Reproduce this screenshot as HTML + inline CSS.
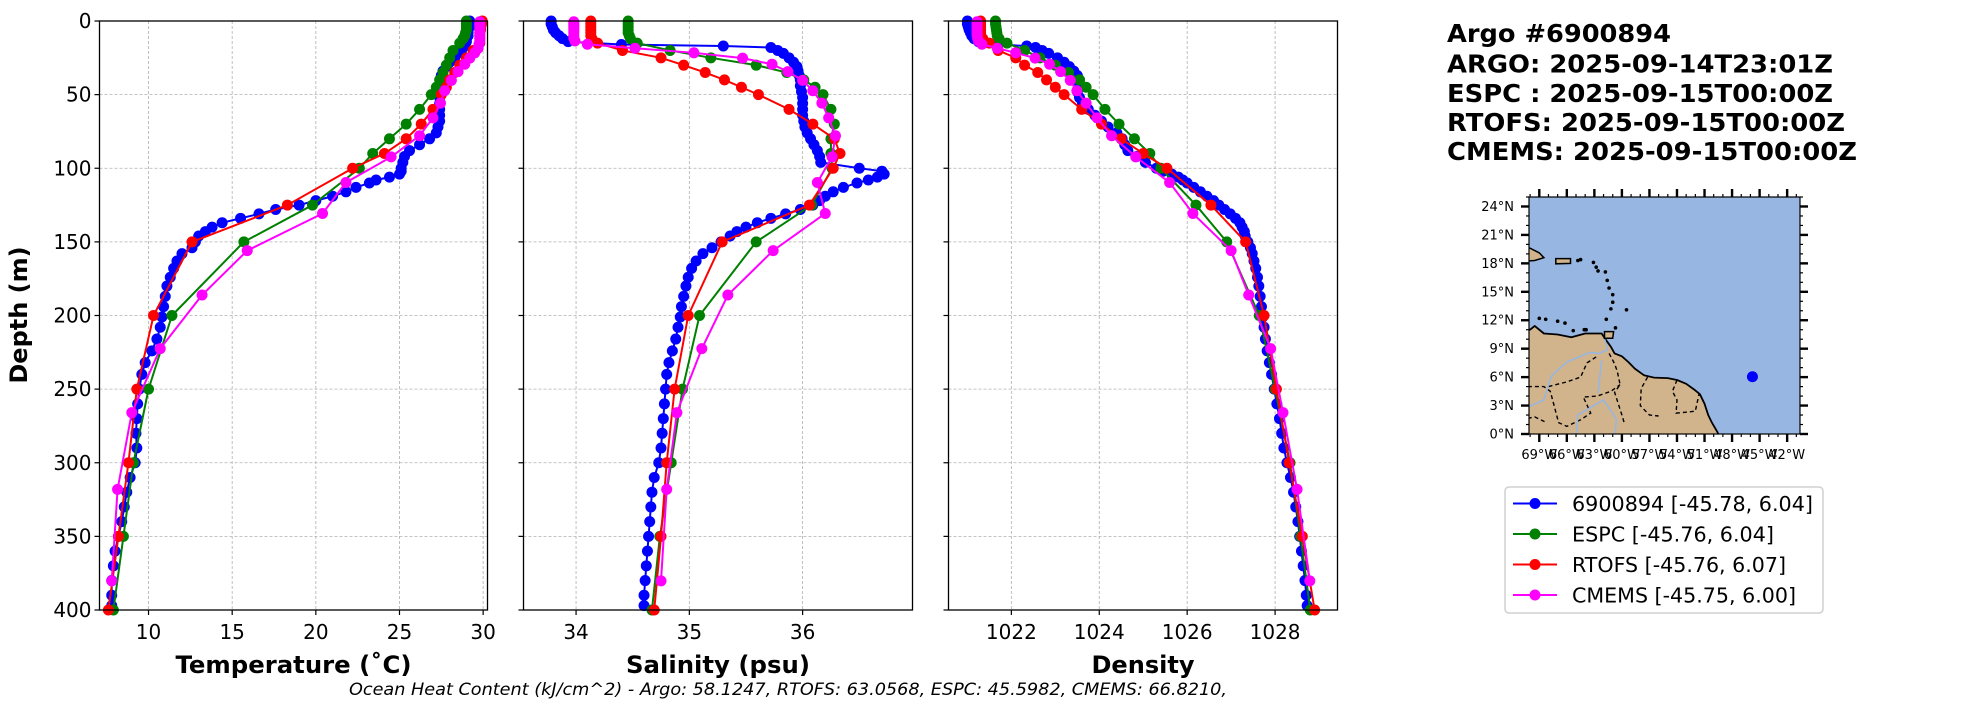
<!DOCTYPE html>
<html><head><meta charset="utf-8"><style>
html,body{margin:0;padding:0;background:#fff;}
svg{display:block;font-family:"DejaVu Sans","Liberation Sans",sans-serif;}
</style></head><body>
<svg id="fig" width="1967" height="712" viewBox="0 0 1967 712" xmlns="http://www.w3.org/2000/svg">
<g id="plots"></g>
<g id="side">
 <g font-weight="bold" font-size="25">
  <text x="1447" y="42" textLength="224" lengthAdjust="spacingAndGlyphs">Argo #6900894</text>
  <text x="1447" y="72.5" textLength="386" lengthAdjust="spacingAndGlyphs">ARGO: 2025-09-14T23:01Z</text>
  <text x="1447" y="102" textLength="386" lengthAdjust="spacingAndGlyphs">ESPC : 2025-09-15T00:00Z</text>
  <text x="1447" y="131" textLength="398" lengthAdjust="spacingAndGlyphs">RTOFS: 2025-09-15T00:00Z</text>
  <text x="1447" y="160" textLength="410" lengthAdjust="spacingAndGlyphs">CMEMS: 2025-09-15T00:00Z</text>
 </g>
 <g id="map"></g>
 <g>
  <rect x="1505" y="487" width="318" height="126" rx="4" fill="#fff" stroke="#d0d0d0" stroke-width="1.5"/>
  <g><line x1="1513" y1="503.5" x2="1557" y2="503.5" stroke="#0000ff" stroke-width="2"/><circle cx="1535" cy="503.5" r="5.5" fill="#0000ff"/><text x="1572" y="511" font-size="20" textLength="241" lengthAdjust="spacingAndGlyphs">6900894 [-45.78, 6.04]</text></g>
  <g><line x1="1513" y1="534" x2="1557" y2="534" stroke="#008000" stroke-width="2"/><circle cx="1535" cy="534" r="5.5" fill="#008000"/><text x="1572" y="541.5" font-size="20" textLength="202" lengthAdjust="spacingAndGlyphs">ESPC [-45.76, 6.04]</text></g>
  <g><line x1="1513" y1="564.5" x2="1557" y2="564.5" stroke="#ff0000" stroke-width="2"/><circle cx="1535" cy="564.5" r="5.5" fill="#ff0000"/><text x="1572" y="572" font-size="20" textLength="214" lengthAdjust="spacingAndGlyphs">RTOFS [-45.76, 6.07]</text></g>
  <g><line x1="1513" y1="595" x2="1557" y2="595" stroke="#ff00ff" stroke-width="2"/><circle cx="1535" cy="595" r="5.5" fill="#ff00ff"/><text x="1572" y="602.5" font-size="20" textLength="224" lengthAdjust="spacingAndGlyphs">CMEMS [-45.75, 6.00]</text></g>
 </g>
</g>
<text x="349" y="695" font-size="17" font-style="italic" textLength="878" lengthAdjust="spacingAndGlyphs">Ocean Heat Content (kJ/cm^2) - Argo: 58.1247,  RTOFS: 63.0568,  ESPC: 45.5982,  CMEMS: 66.8210,</text>
</svg>
<script>
// ---------- data ----------
const argoDepth = [0,2,4,6,8,10,12,14,16,17, 18,20,22,25,28,31,34,37,40,44, 48,52,56,60,64,68,72,76,80,84, 88,92,96,100,102,104,106,108,110,113, 116,119,122,125,128,131,134,137,140,143, 146,150,154,158,163,168,174,180,187,194, 201,208,216,224,232,240,250,260,270,280, 290,300,310,320,330,340,350,360,370,380, 390,397];
const argoTemp = [29.2,29.2,29.2,29.1,29.1,29.1,29.0,29.0,28.9,28.9, 28.8,28.7,28.5,28.3,28.0,27.8,27.6,27.5,27.5,27.4, 27.4,27.4,27.4,27.4,27.4,27.4,27.3,27.2,26.8,26.2, 25.6,25.3,25.2,25.1,25.1,25.0,24.4,23.6,23.2,22.4, 21.8,21.0,20.0,19.0,17.6,16.6,15.5,14.4,13.8,13.4, 13.0,12.8,12.6,12.0,11.7,11.5,11.3,11.1,11.0,10.9, 10.8,10.7,10.5,10.2,9.8,9.6,9.45,9.35,9.3,9.25, 9.3,9.2,8.9,8.7,8.55,8.4,8.2,8.0,7.9,7.8, 7.8,7.8];
const argoSal = [33.78,33.78,33.79,33.8,33.82,33.85,33.88,33.93,34.4,35.3, 35.72,35.78,35.83,35.88,35.92,35.95,35.96,35.97,35.98,35.98, 35.99,36.0,36.0,36.0,36.0,36.01,36.02,36.04,36.07,36.1, 36.13,36.15,36.16,36.5,36.7,36.72,36.66,36.58,36.48,36.36, 36.27,36.2,36.15,36.09,35.98,35.85,35.72,35.6,35.5,35.42, 35.36,35.28,35.2,35.12,35.06,35.02,34.99,34.97,34.95,34.93, 34.92,34.9,34.88,34.85,34.82,34.8,34.79,34.78,34.77,34.76, 34.75,34.73,34.69,34.67,34.66,34.65,34.64,34.63,34.62,34.61, 34.6,34.6];
const argoDens = [1021.0,1021.0,1021.02,1021.04,1021.07,1021.1,1021.15,1021.25,1021.7,1022.35, 1022.55,1022.7,1022.85,1023.05,1023.2,1023.32,1023.42,1023.5,1023.55,1023.52, 1023.5,1023.55,1023.62,1023.75,1023.9,1024.05,1024.2,1024.4,1024.52,1024.58, 1024.65,1024.85,1025.05,1025.3,1025.45,1025.65,1025.8,1025.9,1026.0,1026.15, 1026.3,1026.45,1026.6,1026.72,1026.85,1026.98,1027.1,1027.2,1027.25,1027.3, 1027.32,1027.38,1027.44,1027.48,1027.52,1027.56,1027.6,1027.63,1027.66,1027.69, 1027.72,1027.75,1027.78,1027.82,1027.87,1027.92,1027.98,1028.04,1028.1,1028.15, 1028.2,1028.27,1028.35,1028.42,1028.47,1028.52,1028.56,1028.6,1028.64,1028.68, 1028.71,1028.73];

const modelDepth = [0,2,4,6,8,10,12,15,20,25,30,35,40,45,50,60,70,80,90,100,125,150,200,250,300,350,400];
const espcTemp = [29.0,29.0,29.0,29.0,28.95,28.9,28.8,28.6,28.2,28.0,27.8,27.6,27.4,27.2,26.9,26.2,25.4,24.4,23.4,22.6,19.8,15.7,11.4,10.0,9.1,8.5,7.9];
const espcSal = [34.46,34.46,34.46,34.46,34.46,34.47,34.48,34.54,34.83,35.19,35.59,35.86,36.01,36.11,36.18,36.25,36.28,36.25,36.25,36.26,36.08,35.59,35.09,34.94,34.84,34.74,34.67];
const espcDens = [1021.64,1021.64,1021.65,1021.66,1021.67,1021.68,1021.72,1021.9,1022.3,1022.65,1023.0,1023.3,1023.55,1023.7,1023.86,1024.13,1024.45,1024.8,1025.15,1025.4,1026.2,1026.9,1027.64,1028.0,1028.34,1028.58,1028.8];
const rtofsTemp = [29.95,29.9,29.85,29.85,29.8,29.8,29.8,29.8,29.4,29.0,28.6,28.3,28.0,27.8,27.5,27.0,26.3,25.4,24.1,22.2,18.3,12.6,10.3,9.3,8.8,8.2,7.6];
const rtofsSal = [34.13,34.13,34.13,34.13,34.13,34.13,34.14,34.19,34.41,34.75,34.95,35.14,35.31,35.46,35.61,35.88,36.09,36.28,36.33,36.27,36.06,35.29,34.99,34.87,34.80,34.75,34.69];
const rtofsDens = [1021.3,1021.3,1021.3,1021.3,1021.3,1021.3,1021.35,1021.5,1021.7,1022.1,1022.3,1022.6,1022.8,1023.0,1023.2,1023.6,1024.05,1024.5,1025.0,1025.54,1026.54,1027.33,1027.75,1028.03,1028.32,1028.62,1028.9];

const cmemsDepth = [0.5,1.5,2.6,3.8,5.1,6.4,7.9,9.6,11.4,13.5,15.8,18.5,21.6,25.2,29.4,34.4,40.3,47.4,55.8,65.8,77.9,92.3,109.7,130.7,155.9,186.1,222.5,266.0,318.1,380.2];
const cmemsTemp = [29.8,29.8,29.8,29.8,29.8,29.8,29.8,29.8,29.8,29.8,29.75,29.7,29.5,29.2,28.9,28.5,28.1,27.7,27.45,27.0,26.2,24.5,21.8,20.4,15.9,13.2,10.7,9.0,8.15,7.8];
const cmemsSal = [33.98,33.98,33.98,33.98,33.98,33.98,33.98,33.98,33.98,33.99,34.1,34.52,35.04,35.47,35.73,35.87,36.0,36.09,36.17,36.23,36.29,36.26,36.13,36.2,35.74,35.34,35.11,34.89,34.80,34.75];
const cmemsDens = [1021.22,1021.22,1021.22,1021.22,1021.22,1021.22,1021.22,1021.22,1021.23,1021.25,1021.33,1021.68,1022.1,1022.54,1022.87,1023.12,1023.34,1023.49,1023.7,1023.95,1024.28,1024.83,1025.6,1026.13,1027.0,1027.4,1027.9,1028.18,1028.5,1028.79];

const depthTicks = [0,50,100,150,200,250,300,350,400];
const tempTicks = [10,15,20,25,30];
const salTicks = [34,35,36];
const densTicks = [1022,1024,1026,1028];

const floatLon = -45.78, floatLat = 6.04;
const latTicks = [0,3,6,9,12,15,18,21,24];
const lonTicks = [-69,-66,-63,-60,-57,-54,-51,-48,-45,-42];

// ---------- helpers ----------
const NS = 'http://www.w3.org/2000/svg';
function mk(tag, attrs, parent){ const e=document.createElementNS(NS,tag); for(const k in attrs) e.setAttribute(k,attrs[k]); if(parent) parent.appendChild(e); return e; }
const TOP=21, BOT=610;
const yScale = d => TOP + (d/400)*(BOT-TOP);

const panels = [
 {name:'temperature', x0:99.5, x1:487.5, min:7.07, max:30.26, ticks:tempTicks, label:'Temperature (˚C)', labelW:236, yLabels:true,
  series:[[argoDepth,argoTemp,'#0000ff','argo'],[modelDepth,espcTemp,'#008000','espc'],[modelDepth,rtofsTemp,'#ff0000','rtofs'],[cmemsDepth,cmemsTemp,'#ff00ff','cmems']]},
 {name:'salinity', x0:523.5, x1:912.5, min:33.536, max:36.97, ticks:salTicks, label:'Salinity (psu)', labelW:184, yLabels:false,
  series:[[argoDepth,argoSal,'#0000ff','argo'],[modelDepth,espcSal,'#008000','espc'],[modelDepth,rtofsSal,'#ff0000','rtofs'],[cmemsDepth,cmemsSal,'#ff00ff','cmems']]},
 {name:'density', x0:948.5, x1:1337.5, min:1020.57, max:1029.42, ticks:densTicks, label:'Density', labelW:103, yLabels:false,
  series:[[argoDepth,argoDens,'#0000ff','argo'],[modelDepth,espcDens,'#008000','espc'],[modelDepth,rtofsDens,'#ff0000','rtofs'],[cmemsDepth,cmemsDens,'#ff00ff','cmems']]}
];

const plots = document.getElementById('plots');
panels.forEach(p=>{
  const xs = v => p.x0 + (v-p.min)/(p.max-p.min)*(p.x1-p.x0);
  const g = mk('g',{},plots);
  
  
  p.ticks.forEach(t=>{
    const l = mk('line',{x1:xs(t),x2:xs(t),y1:TOP,y2:BOT,stroke:'#b0b0b0','stroke-width':0.8,'stroke-dasharray':'3,2'},g);
    
    
  });
  depthTicks.forEach(d=>{
    const l = mk('line',{x1:p.x0,x2:p.x1,y1:yScale(d),y2:yScale(d),stroke:'#b0b0b0','stroke-width':0.8,'stroke-dasharray':'3,2'},g);
    
    
  });
  const clipId = 'clip-'+p.name;
  const cp = mk('clipPath',{id:clipId},g); mk('rect',{x:p.x0,y:TOP-6,width:p.x1-p.x0,height:BOT-TOP+12},cp);
  p.series.forEach(s=>{
    const [dep,val,col,nm] = s;
    const sg = mk('g',{'clip-path':'url(#'+clipId+')'},g);
    
    
    const n = Math.min(dep.length,val.length);
    let pts=[];
    for(let i=0;i<n;i++) pts.push(xs(val[i]).toFixed(2)+','+yScale(dep[i]).toFixed(2));
    const pl = mk('polyline',{points:pts.join(' '),fill:'none',stroke:col,'stroke-width':2,'stroke-linejoin':'round'},sg);
    
    
    for(let i=0;i<n;i++){
      const c = mk('circle',{cx:xs(val[i]),cy:yScale(dep[i]),r:5.5,fill:col},sg);
      
      
    }
  });
  const fr = mk('rect',{x:p.x0,y:TOP,width:p.x1-p.x0,height:BOT-TOP,fill:'none',stroke:'#000','stroke-width':1.3},g);
  
  
  p.ticks.forEach(t=>{
    mk('line',{x1:xs(t),x2:xs(t),y1:BOT,y2:BOT+5,stroke:'#000','stroke-width':1.2},g);
    const tx = mk('text',{x:xs(t),y:639,'font-size':20,'text-anchor':'middle'},g);
    tx.textContent = String(t);
    
    
  });
  depthTicks.forEach(d=>{
    mk('line',{x1:p.x0-5,x2:p.x0,y1:yScale(d),y2:yScale(d),stroke:'#000','stroke-width':1.2},g);
    if(p.yLabels){
      const ty = mk('text',{x:p.x0-8,y:yScale(d)+7,'font-size':20,'text-anchor':'end'},g);
      ty.textContent = String(d);
      
      
    }
  });
  const xl = mk('text',{x:(p.x0+p.x1)/2,y:673,'font-size':24,'font-weight':'bold','text-anchor':'middle',textLength:p.labelW,lengthAdjust:'spacingAndGlyphs'},g);
  xl.textContent = p.label;
  
  
});
const yl = mk('text',{x:0,y:0,'font-size':24,'font-weight':'bold','text-anchor':'middle',transform:'translate(27,315) rotate(-90)'},plots);
yl.textContent='Depth (m)';



// ---------- map ----------
const map = document.getElementById('map');
const MX0=1529, MX1=1800, MY0=197, MY1=434;
const LON0=-70.12, LON1=-40.6, LAT0=0, LAT1=25.0;
const mx = lon => MX0 + (lon-LON0)/(LON1-LON0)*(MX1-MX0);
const my = lat => MY1 - (lat-LAT0)/(LAT1-LAT0)*(MY1-MY0);
const mcp = mk('clipPath',{id:'mapclip'},map); mk('rect',{x:MX0,y:MY0,width:MX1-MX0,height:MY1-MY0},mcp);
const ocean = mk('rect',{x:MX0,y:MY0,width:MX1-MX0,height:MY1-MY0,fill:'#97b6e1'},map);


const mg = mk('g',{'clip-path':'url(#mapclip)'},map);
const poly = (arr)=>arr.map(a=>mx(a[0]).toFixed(1)+','+my(a[1]).toFixed(1)).join(' ');
const land = mk('polygon',{points:poly([[-71,-1],[-71,11.2],[-70,11.0],[-69.5,11.4],[-68.5,10.6],[-67,10.5],[-65.5,10.2],[-64,10.6],[-63,10.6],[-62.2,10.6],[-61.8,10.0],[-61.2,9.2],[-60.8,8.5],[-60,8.2],[-59.3,7.6],[-58.6,6.9],[-57.6,6.2],[-56.5,5.95],[-55,5.9],[-54,5.7],[-53,5.3],[-52,4.6],[-51.5,4.2],[-51,3.2],[-50.6,2.0],[-50.2,1.2],[-49.6,0.2],[-49,-1]]),fill:'#d2b48c',stroke:'#000','stroke-width':1.8,'stroke-linejoin':'round'},mg);


const his = mk('polygon',{points:poly([[-71,19.8],[-70,19.6],[-69,19.1],[-68.5,18.6],[-69.5,18.3],[-71,18.2]]),fill:'#d2b48c',stroke:'#000','stroke-width':1.5},mg);


const pr = mk('polygon',{points:poly([[-67.2,18.5],[-65.6,18.5],[-65.6,18.0],[-67.2,17.95]]),fill:'#d2b48c',stroke:'#000','stroke-width':1.5},mg);


const tt = mk('polygon',{points:poly([[-61.9,10.8],[-60.9,10.8],[-61.0,10.1],[-61.9,10.1]]),fill:'#d2b48c',stroke:'#000','stroke-width':1.5},mg);


[[-64.8,18.3],[-64.5,18.4],[-63.1,18.1],[-62.8,17.6],[-62.6,17.2],[-61.8,17.1],[-61.6,16.2],[-61.4,15.4],[-61.0,14.7],[-61.0,13.9],[-61.2,13.2],[-61.7,12.1],[-59.5,13.1],[-60.7,11.2],[-69,12.2],[-68.3,12.1],[-67,11.9],[-64.1,11],[-63.9,11],[-66.2,11.7],[-65.3,10.9]].forEach(pt=>{
  const c = mk('circle',{cx:mx(pt[0]),cy:my(pt[1]),r:1.8,fill:'#000'},mg);
  
  
});
[[[-68,5],[-66,5.5],[-64.5,6],[-63.8,7.5],[-62.7,8.2]],[[-61.4,8.5],[-60.8,7.4],[-60.5,6.6],[-60.2,5.2],[-60.8,4.4],[-60,2],[-59.7,1]],[[-57.2,6],[-57.9,4.8],[-58,3],[-57,2],[-56,1.9]],[[-54,5.7],[-54.5,4.5],[-54,3.6],[-54.1,2.2],[-53,2.3],[-52,2.4],[-51.6,4.2]],[[-71,5],[-68.5,5],[-67.8,4.5],[-66.9,1.2],[-66,0.8],[-64.5,1.5],[-63.4,2.2],[-64.2,3.9],[-62.7,4],[-61.2,4.5],[-60.2,5.2]],[[-71,1.5],[-69.5,1.8],[-68.2,1.2]]].forEach(b=>{
  const l = mk('polyline',{points:poly(b),fill:'none',stroke:'#000','stroke-width':1.4,'stroke-dasharray':'4,3'},mg);
  
  
});
[[[-71,2.5],[-68.5,3.6],[-67.7,6.1],[-66,7.6],[-63.5,8.6],[-62.5,8.5],[-61.5,8.9]],[[-62.6,4.3],[-62.2,7.8]],[[-65,-1],[-64.8,2],[-62,3.6],[-60.6,1.6],[-60.8,-1]],[[-61.5,8.9],[-61.9,10]]].forEach(r=>{
  const l = mk('polyline',{points:poly(r),fill:'none',stroke:'#97b6e1','stroke-width':1.6},mg);
  
  
});
const dot = mk('circle',{cx:mx(floatLon),cy:my(floatLat),r:5.5,fill:'#0000ff'},map);


const mframe = mk('rect',{x:MX0,y:MY0,width:MX1-MX0,height:MY1-MY0,fill:'none',stroke:'#000','stroke-width':1.2},map);


for(let la=0; la<=25; la++){
  const major = la%3===0, len = major?8:3, w=major?2.4:1.2;
  mk('line',{x1:MX0-len,x2:MX0,y1:my(la),y2:my(la),stroke:'#000','stroke-width':w},map);
  mk('line',{x1:MX1,x2:MX1+len,y1:my(la),y2:my(la),stroke:'#000','stroke-width':w},map);
}
for(let lo=-70; lo<=-41; lo++){
  const major = (lo+69)%3===0, len = major?8:3, w=major?2.4:1.2;
  mk('line',{x1:mx(lo),x2:mx(lo),y1:MY1,y2:MY1+len,stroke:'#000','stroke-width':w},map);
  mk('line',{x1:mx(lo),x2:mx(lo),y1:MY0-len,y2:MY0,stroke:'#000','stroke-width':w},map);
}
latTicks.forEach(la=>{
  const t = mk('text',{x:1514,y:my(la)+4.5,'font-size':13,'text-anchor':'end'},map);
  t.textContent = la+'°N';
  
  
});
lonTicks.forEach(lo=>{
  const t = mk('text',{x:mx(lo),y:459,'font-size':13,'text-anchor':'middle'},map);
  t.textContent = Math.abs(lo)+'°W';
  
  
});
</script>
</body></html>
